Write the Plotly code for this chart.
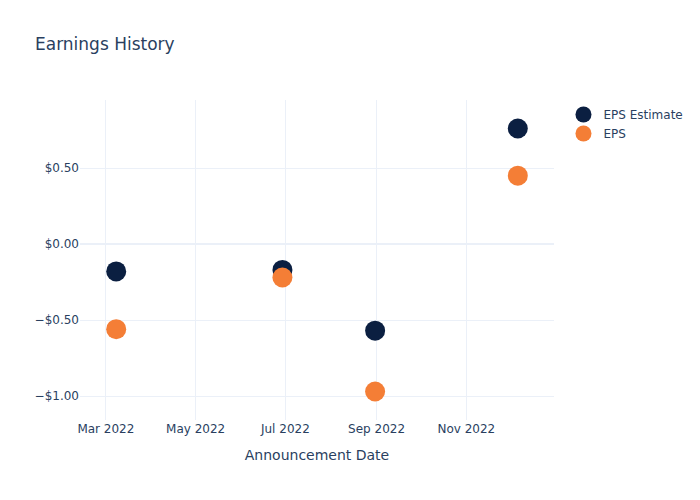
import plotly.graph_objects as go

dates = ["2022-03-08", "2022-06-29", "2022-08-31", "2022-12-06"]
eps_estimate = [-0.18, -0.17, -0.57, 0.76]
eps_actual = [-0.56, -0.22, -0.97, 0.45]

fig = go.Figure()
fig.add_trace(go.Scatter(x=dates, y=eps_estimate, mode="markers", name="EPS Estimate",
                         marker=dict(color="#0b1f41", size=20)))
fig.add_trace(go.Scatter(x=dates, y=eps_actual, mode="markers", name="EPS",
                         marker=dict(color="#f47e36", size=20)))
fig.update_layout(
    template="plotly_white",
    font=dict(family="DejaVu Sans"),
    width=700, height=500,
    title="Earnings History",
    xaxis_title="Announcement Date",
    yaxis=dict(tickformat="$.2f"),
)
fig.write_html("out.html")
